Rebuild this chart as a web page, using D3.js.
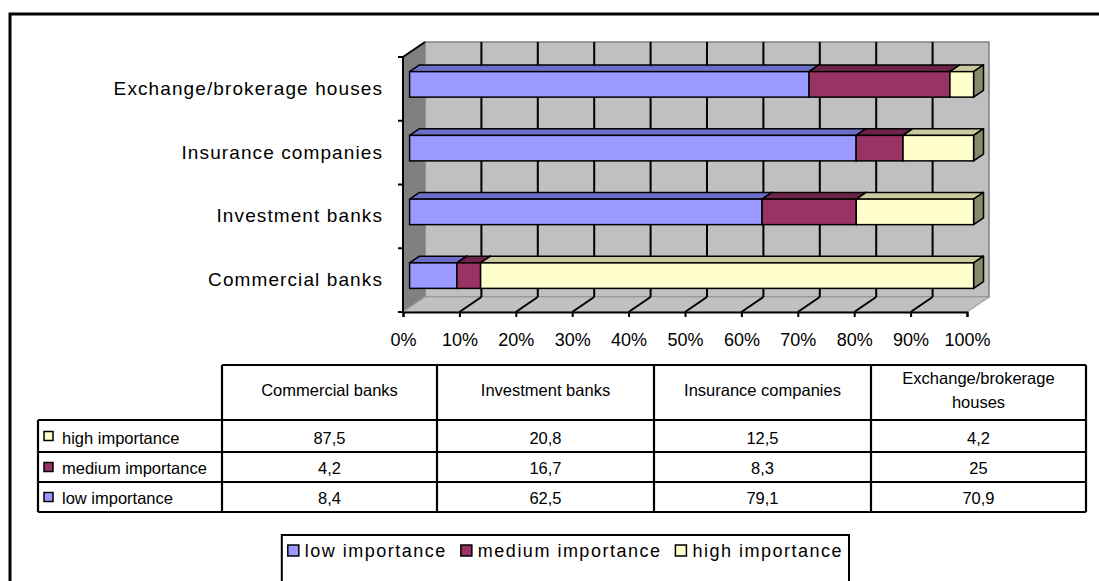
<!DOCTYPE html>
<html>
<head>
<meta charset="utf-8">
<script src="https://cdn.jsdelivr.net/npm/d3@7"></script>
<style>
  html, body { margin: 0; padding: 0; background: #ffffff; }
  svg { display: block; font-family: "Liberation Sans", Arial, sans-serif; }
</style>
</head>
<body>
<svg id="chart" width="1099" height="581"></svg>
<script>
// Importance of bank categories, 100% stacked 3-D bars with a data table
const categories = ["Commercial banks", "Investment banks", "Insurance companies", "Exchange/brokerage houses"];
const seriesNames = ["low importance", "medium importance", "high importance"];
const lowValues = [8.4, 62.5, 79.1, 70.9];
const mediumValues = [4.2, 16.7, 8.3, 25];
const highValues = [87.5, 20.8, 12.5, 4.2];
const xTicks = [0, 10, 20, 30, 40, 50, 60, 70, 80, 90, 100];

const seriesValues = [lowValues, mediumValues, highValues];
const frontColors = ["#9999FF", "#993366", "#FFFFCC"];
const topColors = ["#6E6EC8", "#6E2448", "#CACA9C"];
const sideColors = ["#4D4D80", "#4D1A33", "#8A8A6A"];

const svg = d3.select("#chart");

// outer frame (runs off the right and bottom of the view)
svg.append("path")
  .attr("d", "M10,600 V14 H1120")
  .attr("fill", "none").attr("stroke", "#000").attr("stroke-width", 3);

// plot geometry
const plot = { left: 403, right: 967, top: 57, bottom: 312 };
const depth = { dx: 22, dy: -15 };
const barFront = 0.3, barBack = 0.75;

const x = d3.scaleLinear().domain([0, 100]).range([plot.left, plot.right]);
const y = d3.scaleBand()
  .domain(categories.slice().reverse())
  .range([plot.top, plot.bottom])
  .paddingInner(0.6).paddingOuter(0.3);

const g = svg.append("g");

// back wall
g.append("rect")
  .attr("x", plot.left + depth.dx).attr("y", plot.top + depth.dy)
  .attr("width", plot.right - plot.left).attr("height", plot.bottom - plot.top)
  .attr("fill", "#C0C0C0").attr("stroke", "#808080").attr("stroke-width", 1.5);

// side wall
g.append("polygon")
  .attr("points", [
    [plot.left, plot.top], [plot.left + depth.dx, plot.top + depth.dy],
    [plot.left + depth.dx, plot.bottom + depth.dy], [plot.left, plot.bottom]
  ].map(p => p.join(",")).join(" "))
  .attr("fill", "#808080");

// floor
g.append("polygon")
  .attr("points", [
    [plot.left, plot.bottom], [plot.right, plot.bottom],
    [plot.right + depth.dx, plot.bottom + depth.dy], [plot.left + depth.dx, plot.bottom + depth.dy]
  ].map(p => p.join(",")).join(" "))
  .attr("fill", "#C0C0C0").attr("stroke", "#A0A0A0").attr("stroke-width", 1.2);

// gridlines on the back wall and floor
const inner = xTicks.filter(t => t > 0 && t < 100);
g.selectAll(".vgrid").data(inner).join("line")
  .attr("x1", d => x(d) + depth.dx).attr("x2", d => x(d) + depth.dx)
  .attr("y1", plot.top + depth.dy).attr("y2", plot.bottom + depth.dy)
  .attr("stroke", "#000").attr("stroke-width", 2);
g.selectAll(".fgrid").data(inner).join("line")
  .attr("x1", d => x(d)).attr("y1", plot.bottom)
  .attr("x2", d => x(d) + depth.dx).attr("y2", plot.bottom + depth.dy)
  .attr("stroke", "#000").attr("stroke-width", 2);

// stacked bars, normalised to 100%
const fx = depth.dx * barFront, fy = depth.dy * barFront;
const bx = depth.dx * barBack, by = depth.dy * barBack;
const tdx = bx - fx, tdy = by - fy;

categories.forEach((cat, ci) => {
  const total = seriesValues.reduce((s, arr) => s + arr[ci], 0);
  let acc = 0;
  const y0 = y(cat) + fy, h = y.bandwidth();
  seriesValues.forEach((arr, si) => {
    const startPct = acc / total * 100;
    acc += arr[ci];
    const endPct = acc / total * 100;
    const xa = x(startPct) + fx, xb = x(endPct) + fx;
    const seg = g.append("g");
    // top face
    seg.append("polygon")
      .attr("points", [[xa, y0], [xa + tdx, y0 + tdy], [xb + tdx, y0 + tdy], [xb, y0]].map(p => p.join(",")).join(" "))
      .attr("fill", topColors[si]).attr("stroke", "#000").attr("stroke-width", 1.5).attr("stroke-linejoin", "round");
    // right face
    seg.append("polygon")
      .attr("points", [[xb, y0], [xb + tdx, y0 + tdy], [xb + tdx, y0 + tdy + h], [xb, y0 + h]].map(p => p.join(",")).join(" "))
      .attr("fill", sideColors[si]).attr("stroke", "#000").attr("stroke-width", 1.5).attr("stroke-linejoin", "round");
    // front face
    seg.append("rect")
      .attr("x", xa).attr("y", y0).attr("width", xb - xa).attr("height", h)
      .attr("fill", frontColors[si]).attr("stroke", "#000").attr("stroke-width", 1.5);
  });
});

// category axis
g.append("line")
  .attr("x1", plot.left).attr("y1", plot.top).attr("x2", plot.left + depth.dx).attr("y2", plot.top + depth.dy)
  .attr("stroke", "#000").attr("stroke-width", 2);
g.append("line")
  .attr("x1", plot.left).attr("y1", plot.top).attr("x2", plot.left).attr("y2", plot.bottom)
  .attr("stroke", "#000").attr("stroke-width", 2);
const boundaries = d3.range(categories.length + 1).map(i => plot.top + i * y.step());
g.selectAll(".ytick").data(boundaries).join("line")
  .attr("x1", plot.left - 5).attr("x2", plot.left).attr("y1", d => d).attr("y2", d => d)
  .attr("stroke", "#000").attr("stroke-width", 2);

const yLabelAxis = d3.axisLeft(y).tickSize(0).tickPadding(20);
const yAxisG = g.append("g").attr("transform", `translate(${plot.left},0)`).call(yLabelAxis);
yAxisG.select(".domain").remove();
yAxisG.selectAll("text")
  .attr("font-size", 19).attr("font-family", "Liberation Sans, Arial, sans-serif")
  .attr("letter-spacing", "1.1px").attr("fill", "#000");

// value axis
const xAxis = d3.axisBottom(x).tickValues(xTicks).tickFormat(d => d + "%").tickSize(5).tickPadding(16);
const xAxisG = g.append("g").attr("transform", `translate(0,${plot.bottom})`).call(xAxis);
xAxisG.select(".domain").attr("stroke", "#000").attr("stroke-width", 2);
xAxisG.selectAll(".tick line").attr("stroke", "#000").attr("stroke-width", 2);
xAxisG.selectAll("text")
  .attr("font-size", 18).attr("font-family", "Liberation Sans, Arial, sans-serif").attr("fill", "#000");

// data table
const colEdges = [38, 222, 437, 654, 871, 1086];
const rowEdges = [365, 420, 452, 482, 512];
const tableRows = [
  { name: seriesNames[2], values: highValues, color: frontColors[2] },
  { name: seriesNames[1], values: mediumValues, color: frontColors[1] },
  { name: seriesNames[0], values: lowValues, color: frontColors[0] }
];
const fmt = v => String(v).replace(".", ",");
const t = svg.append("g").attr("font-size", 16.5).attr("fill", "#000");

// table grid
const lineStyle = sel => sel.attr("stroke", "#000").attr("stroke-width", 2.2);
t.append("line").attr("x1", colEdges[1]).attr("x2", colEdges[5]).attr("y1", rowEdges[0]).attr("y2", rowEdges[0]).call(lineStyle);
colEdges.slice(1).forEach(cx => {
  t.append("line").attr("x1", cx).attr("x2", cx).attr("y1", rowEdges[0]).attr("y2", rowEdges[4]).call(lineStyle);
});
t.append("line").attr("x1", colEdges[0]).attr("x2", colEdges[0]).attr("y1", rowEdges[1]).attr("y2", rowEdges[4]).call(lineStyle);
rowEdges.slice(1).forEach(ry => {
  t.append("line").attr("x1", colEdges[0]).attr("x2", colEdges[5]).attr("y1", ry).attr("y2", ry).call(lineStyle);
});

// column headers
const headerLines = [["Commercial banks"], ["Investment banks"], ["Insurance companies"], ["Exchange/brokerage", "houses"]];
headerLines.forEach((lines, i) => {
  const cx = (colEdges[i + 1] + colEdges[i + 2]) / 2;
  const baseY = lines.length === 1 ? 396 : 384;
  lines.forEach((ln, k) => {
    t.append("text").attr("x", cx).attr("y", baseY + k * 24).attr("text-anchor", "middle").text(ln);
  });
});

// rows
tableRows.forEach((row, ri) => {
  const yb = rowEdges[ri + 2] - 8;
  const yc = (rowEdges[ri + 1] + rowEdges[ri + 2]) / 2;
  t.append("rect").attr("x", 44).attr("y", yc - 4.5).attr("width", 9).attr("height", 9)
    .attr("fill", row.color).attr("stroke", "#000").attr("stroke-width", 1.5);
  t.append("text").attr("x", 62).attr("y", yb).text(row.name);
  row.values.forEach((v, ci) => {
    const cx = (colEdges[ci + 1] + colEdges[ci + 2]) / 2;
    t.append("text").attr("x", cx).attr("y", yb).attr("text-anchor", "middle").text(fmt(v));
  });
});

// legend
const legend = svg.append("g");
const legendBox = legend.append("rect")
  .attr("y", 535).attr("height", 60)
  .attr("fill", "#fff").attr("stroke", "#000").attr("stroke-width", 2);
const items = legend.append("g");
let cursor = 0;
seriesNames.forEach((name, i) => {
  const it = items.append("g").attr("transform", `translate(${cursor},0)`);
  it.append("rect").attr("x", 0).attr("y", 545).attr("width", 11).attr("height", 11)
    .attr("fill", frontColors[i]).attr("stroke", "#000").attr("stroke-width", 1.5);
  const txt = it.append("text").attr("x", 17).attr("y", 557)
    .attr("font-size", 18).attr("letter-spacing", "1.5px").attr("fill", "#000").text(name);
  cursor += 17 + txt.node().getComputedTextLength() + 14;
});
const legendRight = 849;
const contentW = cursor - 14;
const legendLeft = legendRight - contentW - 12;
items.attr("transform", `translate(${legendLeft + 6},0)`);
legendBox.attr("x", legendLeft).attr("width", legendRight - legendLeft);
</script>
</body>
</html>
